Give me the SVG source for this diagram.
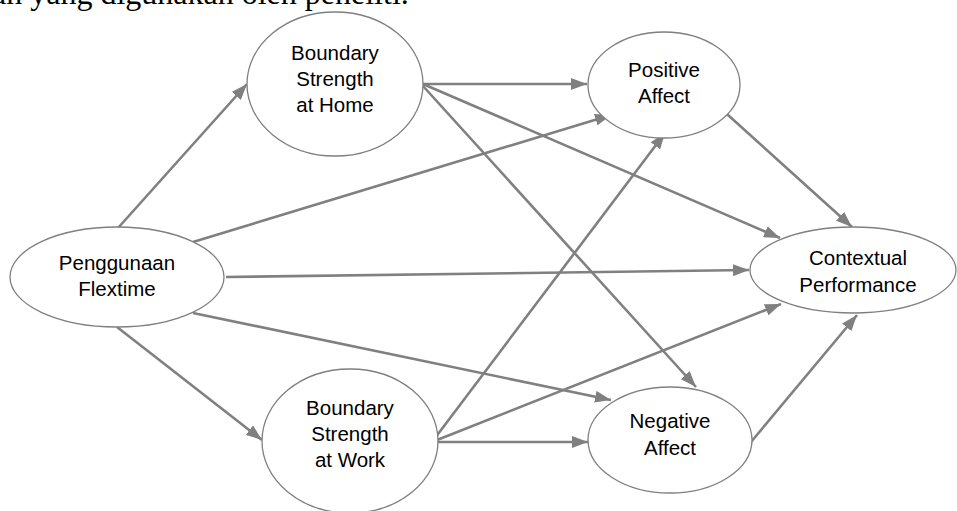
<svg xmlns="http://www.w3.org/2000/svg" width="957" height="511" viewBox="0 0 957 511">
<style>
.node ellipse{fill:#fff;stroke:#7f7f7f;stroke-width:1.3}
.node text{font-family:"Liberation Sans",Arial,sans-serif;font-size:20.5px;fill:#000;text-anchor:middle}
.conn line{stroke:#808080;stroke-width:2.6;marker-end:url(#ah)}
.cap{font-family:"Liberation Serif","Times New Roman",serif;font-size:32px;fill:#000}
</style>
<defs>
<marker id="ah" markerUnits="userSpaceOnUse" markerWidth="18" markerHeight="12" refX="16" refY="6" orient="auto">
<path d="M0,0 L16,6 L0,12 z" fill="#808080"/>
</marker>
</defs>
<rect width="957" height="511" fill="#fff"/>
<text class="cap" x="-8" y="4">an yang digunakan oleh peneliti.</text>
<g class="conn">
<line x1="118" y1="228" x2="247" y2="84"/>
<line x1="193" y1="242" x2="611" y2="115"/>
<line x1="226" y1="277" x2="749" y2="270"/>
<line x1="193" y1="313" x2="611" y2="400"/>
<line x1="117" y1="327" x2="262" y2="440"/>
<line x1="423" y1="84" x2="587" y2="84"/>
<line x1="423" y1="84" x2="780" y2="238"/>
<line x1="423" y1="86" x2="696" y2="387"/>
<line x1="432" y1="442" x2="665" y2="133"/>
<line x1="432" y1="442" x2="781" y2="304"/>
<line x1="432" y1="442" x2="588" y2="442"/>
<line x1="718" y1="106" x2="852" y2="227"/>
<line x1="751" y1="442" x2="857" y2="315"/>
</g>
<g id="flextime" class="node">
<ellipse cx="117" cy="277" rx="107" ry="50"/>
<text x="117" y="270">Penggunaan</text>
<text x="117" y="296">Flextime</text>
</g>
<g id="bs-home" class="node">
<ellipse cx="335" cy="84" rx="88" ry="72"/>
<text x="335" y="60">Boundary</text>
<text x="335" y="86">Strength</text>
<text x="335" y="112">at Home</text>
</g>
<g id="bs-work" class="node">
<ellipse cx="350" cy="441" rx="88" ry="72"/>
<text x="350" y="415">Boundary</text>
<text x="350" y="441">Strength</text>
<text x="350" y="467">at Work</text>
</g>
<g id="positive" class="node">
<ellipse cx="664" cy="85" rx="76" ry="53"/>
<text x="664" y="77">Positive</text>
<text x="664" y="103">Affect</text>
</g>
<g id="negative" class="node">
<ellipse cx="670" cy="440" rx="82" ry="53"/>
<text x="670" y="428">Negative</text>
<text x="670" y="455">Affect</text>
</g>
<g id="contextual" class="node">
<ellipse cx="853" cy="270" rx="103" ry="43"/>
<text x="858" y="265">Contextual</text>
<text x="858" y="292">Performance</text>
</g>
</svg>
